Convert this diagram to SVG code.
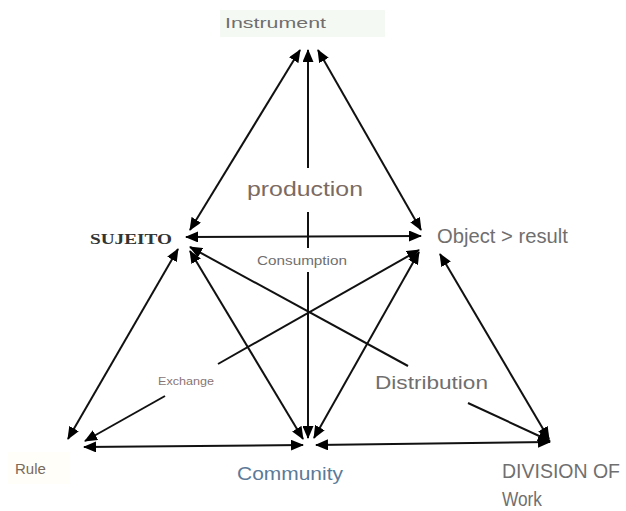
<svg xmlns="http://www.w3.org/2000/svg" width="626" height="511" viewBox="0 0 626 511">
<style>
.c line{stroke:#111;stroke-width:2;fill:none}
.t{font-family:"Liberation Sans",Arial,sans-serif;fill:#6f6f6f}
</style>
<defs>
<marker id="a" viewBox="0 0 13 11" refX="12" refY="5.5" markerWidth="13" markerHeight="11" markerUnits="userSpaceOnUse" orient="auto-start-reverse">
<path d="M0,0 L13,5.5 L0,11 z" fill="#000"/>
</marker>
</defs>
<rect width="626" height="511" fill="#fff"/>
<g class="c">
<line x1="190" y1="230" x2="300" y2="50" marker-start="url(#a)" marker-end="url(#a)"/>
<line x1="308" y1="168" x2="308" y2="50" marker-end="url(#a)"/>
<line x1="308" y1="212" x2="308" y2="248"/>
<line x1="308" y1="272" x2="308" y2="438" marker-end="url(#a)"/>
<line x1="318" y1="50" x2="421" y2="230" marker-start="url(#a)" marker-end="url(#a)"/>
<line x1="186" y1="237" x2="421" y2="236" marker-start="url(#a)" marker-end="url(#a)"/>
<line x1="178" y1="249" x2="68" y2="439" marker-start="url(#a)" marker-end="url(#a)"/>
<line x1="190" y1="251" x2="303" y2="439" marker-start="url(#a)" marker-end="url(#a)"/>
<line x1="408" y1="366" x2="190" y2="247" marker-end="url(#a)"/>
<line x1="468" y1="403" x2="550" y2="441" marker-end="url(#a)"/>
<line x1="218" y1="364" x2="419" y2="250" marker-end="url(#a)"/>
<line x1="165" y1="396" x2="85" y2="441" marker-end="url(#a)"/>
<line x1="419" y1="252" x2="314" y2="438" marker-start="url(#a)" marker-end="url(#a)"/>
<line x1="440" y1="254" x2="549" y2="439" marker-start="url(#a)" marker-end="url(#a)"/>
<line x1="84" y1="447" x2="303" y2="445" marker-start="url(#a)" marker-end="url(#a)"/>
<line x1="316" y1="445" x2="550" y2="442" marker-start="url(#a)" marker-end="url(#a)"/>
</g>
<g id="instrument">
<rect x="220" y="10" width="165" height="27" fill="#f5f9f3"/>
<text class="t" x="225" y="28" font-size="15" textLength="101" lengthAdjust="spacingAndGlyphs">Instrument</text>
</g>
<g id="sujeito">
<text x="90" y="244" font-family="'Liberation Serif','Times New Roman',serif" font-weight="bold" font-size="15" fill="#333" textLength="82" lengthAdjust="spacingAndGlyphs">SUJEITO</text>
</g>
<g id="object">
<text class="t" x="437" y="243" font-size="20" textLength="131" lengthAdjust="spacingAndGlyphs">Object &gt; result</text>
</g>
<g id="production">
<text class="t" x="247" y="196" font-size="21" style="fill:#7b6a62" textLength="116" lengthAdjust="spacingAndGlyphs">production</text>
</g>
<g id="consumption">
<text class="t" x="257" y="265" font-size="13" textLength="90" lengthAdjust="spacingAndGlyphs">Consumption</text>
</g>
<g id="exchange">
<text class="t" x="158" y="385" font-size="11" style="fill:#8a7474" textLength="56" lengthAdjust="spacingAndGlyphs">Exchange</text>
</g>
<g id="distribution">
<text class="t" x="375" y="389" font-size="18" textLength="113" lengthAdjust="spacingAndGlyphs">Distribution</text>
</g>
<g id="rule">
<rect x="8" y="452" width="62" height="32" fill="#fffef8"/>
<text class="t" x="15" y="474" font-size="15" style="fill:#7a6a5a">Rule</text>
</g>
<g id="community">
<text class="t" x="237" y="480" font-size="18" style="fill:#5b7a99" textLength="106" lengthAdjust="spacingAndGlyphs">Community</text>
</g>
<g id="division">
<text class="t" x="502" y="478" font-size="20" textLength="118" lengthAdjust="spacingAndGlyphs">DIVISION OF</text>
<text class="t" x="502" y="506" font-size="20" textLength="40" lengthAdjust="spacingAndGlyphs">Work</text>
</g>
</svg>
